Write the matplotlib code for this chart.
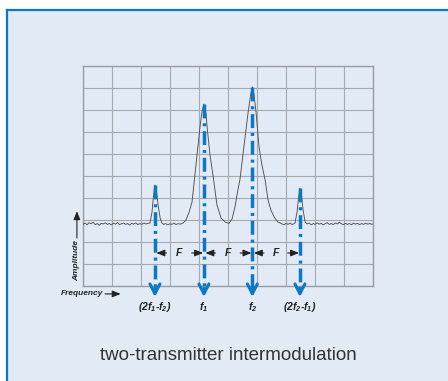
import numpy as np
import matplotlib
matplotlib.use('Agg')
import matplotlib.pyplot as plt
from matplotlib.patches import Rectangle
from matplotlib.lines import Line2D

plt.rcParams['font.family'] = ['Liberation Sans', 'DejaVu Sans']
plt.rcParams['mathtext.fontset'] = 'custom'
plt.rcParams['mathtext.rm'] = 'Liberation Sans:bold:italic'
plt.rcParams['mathtext.it'] = 'Liberation Sans:bold:italic'
plt.rcParams['lines.scale_dashes'] = False

# ----- data (grid units: 10 x 10 divisions) -----
trace_x = [0.00, 0.07, 0.14, 0.21, 0.28, 0.35, 0.42, 0.49, 0.56, 0.63, 0.70, 0.77,
           0.84, 0.91, 0.98, 1.05, 1.12, 1.19, 1.26, 1.33, 1.40, 1.47, 1.54, 1.61,
           1.68, 1.75, 1.82, 1.89, 1.96, 2.03, 2.10, 2.17, 2.24,
           2.31, 2.38, 2.43, 2.48, 2.53, 2.59, 2.66, 2.72,
           2.78, 2.85, 2.92, 3.00, 3.07, 3.14, 3.21, 3.28, 3.35,
           3.45, 3.55, 3.66, 3.76, 3.86, 3.97, 4.03, 4.10, 4.17, 4.24, 4.29, 4.38,
           4.48, 4.62, 4.76, 4.90, 5.03,
           5.14, 5.24, 5.34, 5.41, 5.55, 5.69, 5.78, 5.84, 5.90, 5.97, 6.07, 6.17,
           6.28, 6.38, 6.48, 6.59, 6.72, 6.86,
           6.93, 7.00, 7.07, 7.14, 7.21,
           7.31, 7.38, 7.43, 7.48, 7.53, 7.59, 7.66,
           7.72, 7.80, 7.87, 7.94, 8.00, 8.07, 8.14, 8.21, 8.28, 8.35, 8.42, 8.49,
           8.56, 8.63, 8.70, 8.77, 8.84, 8.91, 8.98, 9.05, 9.12, 9.19, 9.26, 9.33,
           9.40, 9.47, 9.54, 9.61, 9.68, 9.75, 9.82, 9.89, 9.96, 10.00]
trace_y = [2.80, 2.86, 2.78, 2.88, 2.83, 2.90, 2.79, 2.84, 2.76, 2.85, 2.82, 2.87,
           2.80, 2.84, 2.78, 2.86, 2.81, 2.88, 2.79, 2.83, 2.86, 2.80, 2.84, 2.77,
           2.85, 2.81, 2.87, 2.79, 2.84, 2.80, 2.86, 2.82, 2.85,
           2.86, 3.36, 4.09, 4.59, 4.36, 3.68, 3.09, 2.86,
           2.80, 2.84, 2.78, 2.83, 2.80, 2.86, 2.79, 2.84, 2.81,
           2.86, 3.00, 3.36, 3.82, 5.05, 6.41, 7.18, 7.91, 8.27, 7.86, 7.09, 5.95,
           5.05, 3.68, 3.09, 2.91, 2.84,
           3.05, 3.59, 4.36, 4.82, 6.32, 7.86, 8.68, 9.05, 8.68, 7.86, 6.32, 5.50,
           4.82, 3.91, 3.45, 3.14, 2.91, 2.82,
           2.78, 2.85, 2.80, 2.86, 2.79,
           2.86, 3.36, 4.00, 4.45, 4.14, 3.45, 2.91,
           2.82, 2.86, 2.78, 2.84, 2.80, 2.87, 2.81, 2.85, 2.78, 2.83, 2.88, 2.80,
           2.84, 2.79, 2.86, 2.82, 2.90, 2.83, 2.79, 2.85, 2.80, 2.84, 2.78, 2.86,
           2.81, 2.85, 2.79, 2.84, 2.80, 2.86, 2.81, 2.84, 2.80, 2.82]

peak_x = [2.48, 4.17, 5.84, 7.48]
peak_top = [4.59, 8.27, 9.05, 4.45]
peak_labels = [r'$(2f_1\text{-}f_2)$', r'$f_1$', r'$f_2$', r'$(2f_2\text{-}f_1)$']
caption = 'two-transmitter intermodulation'

bg = '#e2eaf6'
blue = '#0a78c4'
ink = '#222222'

# ----- figure -----
fig = plt.figure(figsize=(4.48, 3.81), dpi=100, facecolor='white')
W, H = 448, 381
fig.patches.append(Rectangle((6/W, 0), 1 - 6/W, (H - 10)/H, transform=fig.transFigure,
                             facecolor=bg, edgecolor='none', zorder=-5))
fig.lines.append(Line2D([6.5/W, 1], [(H - 10)/H]*2, transform=fig.transFigure,
                        color=blue, lw=1.6, zorder=-4))
fig.lines.append(Line2D([6.5/W]*2, [0, (H - 10)/H], transform=fig.transFigure,
                        color=blue, lw=1.6, zorder=-4))

ax = fig.add_axes([83/W, 95/H, 290/W, 220/H])
ax.set_zorder(1)
ax.set_facecolor(bg)
ax.set_xlim(0, 10)
ax.set_ylim(0, 10)
ax.set_xticks(np.arange(0, 11))
ax.set_yticks(np.arange(0, 11))
ax.tick_params(length=0, labelbottom=False, labelleft=False)
ax.grid(True, color='#a6a9ae', lw=0.8)
for s in ax.spines.values():
    s.set_color('#9a9da2')
    s.set_linewidth(1.0)

ax.plot(trace_x, trace_y, color='#505050', lw=0.65, zorder=3)

# ----- dash-dot markers with arrowheads -----
for x, top, lab in zip(peak_x, peak_top, peak_labels):
    ln, = ax.plot([x, x], [top, -0.12], color=blue, lw=2.5, clip_on=False, zorder=4,
                  solid_capstyle='butt', dash_capstyle='butt')
    ln.set_dashes((10, 3.5, 2.2, 3.5))
    ax.annotate('', xy=(x, -0.5), xytext=(x, -0.1), annotation_clip=False,
                arrowprops=dict(arrowstyle='->,head_length=0.7,head_width=0.36',
                                color=blue, lw=2.2, shrinkA=0, shrinkB=0))
    ax.text(x, -0.95, lab, ha='center', va='center', fontsize=7.5, color=ink)

# ----- F spacing arrows -----
for i in range(len(peak_x) - 1):
    a, b = peak_x[i], peak_x[i + 1]
    ax.annotate('', xy=(a + 0.05, 1.5), xytext=(a + 0.4, 1.5),
                arrowprops=dict(arrowstyle='-|>,head_length=0.5,head_width=0.2',
                                color=ink, lw=0.8, shrinkA=0, shrinkB=0))
    ax.annotate('', xy=(b - 0.03, 1.5), xytext=(b - 0.42, 1.5),
                arrowprops=dict(arrowstyle='-|>,head_length=0.5,head_width=0.2',
                                color=ink, lw=0.8, shrinkA=0, shrinkB=0))
    ax.text((a + b) / 2 - 0.01, 1.5, 'F', ha='center', va='center', fontsize=7.5,
            fontweight='bold', fontstyle='italic', color=ink)

# ----- axis captions -----
ax.text(-0.21, 1.14, 'Amplitude', rotation=90, ha='center', va='center', fontsize=6,
        fontweight='bold', fontstyle='italic', color=ink, clip_on=False)
ax.annotate('', xy=(-0.21, 3.4), xytext=(-0.21, 2.18), annotation_clip=False,
            arrowprops=dict(arrowstyle='-|>,head_length=0.5,head_width=0.2',
                            color=ink, lw=0.8, shrinkA=0, shrinkB=0))
ax.text(0.69, -0.36, 'Frequency', ha='right', va='center', fontsize=6,
        fontweight='bold', fontstyle='italic', color=ink, clip_on=False)
ax.annotate('', xy=(1.3, -0.36), xytext=(0.76, -0.36), annotation_clip=False,
            arrowprops=dict(arrowstyle='-|>,head_length=0.5,head_width=0.2',
                            color=ink, lw=0.8, shrinkA=0, shrinkB=0))

fig.text(228/W, (H - 355)/H, caption, ha='center', va='center', fontsize=13.5,
         color='#333333')

fig.savefig('out.png', dpi=100, facecolor='white')
